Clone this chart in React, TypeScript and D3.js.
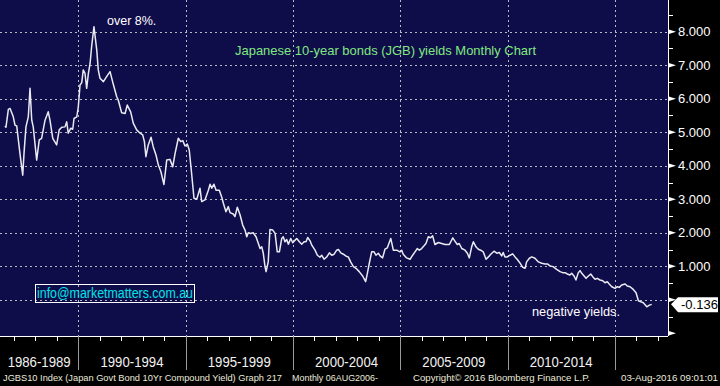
import * as React from 'react';
import { scaleLinear, line, range } from 'd3';

// JGB 10y yield, monthly (decimal year, %)
const dates = [
  1986.58, 1986.63, 1986.74, 1986.82, 1986.97, 1987.05, 1987.13, 1987.28, 1987.41, 1987.47,
  1987.56, 1987.67, 1987.75, 1987.83, 1987.90, 1988.06, 1988.18, 1988.29, 1988.45, 1988.60,
  1988.68, 1988.81, 1988.99, 1989.11, 1989.23, 1989.38, 1989.46, 1989.53, 1989.65, 1989.74,
  1989.80, 1989.93, 1990.00, 1990.08, 1990.16, 1990.23, 1990.31, 1990.39, 1990.47, 1990.55,
  1990.62, 1990.73, 1990.86, 1990.93, 1991.01, 1991.17, 1991.32, 1991.48, 1991.63, 1991.79,
  1991.86, 1992.02, 1992.18, 1992.28, 1992.44, 1992.56, 1992.72, 1992.88, 1993.00, 1993.08,
  1993.15, 1993.26, 1993.39, 1993.49, 1993.62, 1993.73, 1993.85, 1993.99, 1994.12, 1994.27,
  1994.40, 1994.51, 1994.66, 1994.77, 1994.87, 1994.97, 1995.08, 1995.17, 1995.28, 1995.39,
  1995.52, 1995.67, 1995.75, 1995.90, 1996.06, 1996.14, 1996.22, 1996.32, 1996.42, 1996.57,
  1996.68, 1996.76, 1996.88, 1996.99, 1997.07, 1997.22, 1997.30, 1997.41, 1997.54, 1997.66,
  1997.77, 1997.85, 1997.92, 1998.03, 1998.15, 1998.28, 1998.39, 1998.47, 1998.55, 1998.62,
  1998.70, 1998.75, 1998.85, 1998.93, 1999.06, 1999.17, 1999.27, 1999.37, 1999.48, 1999.55,
  1999.63, 1999.71, 1999.79, 1999.90, 1999.99, 2000.10, 2000.18, 2000.30, 2000.41, 2000.52,
  2000.61, 2000.69, 2000.80, 2000.88, 2001.03, 2001.14, 2001.26, 2001.34, 2001.45, 2001.58,
  2001.70, 2001.81, 2001.92, 2002.04, 2002.12, 2002.23, 2002.35, 2002.48, 2002.58, 2002.69,
  2002.82, 2002.94, 2003.09, 2003.25, 2003.39, 2003.47, 2003.56, 2003.67, 2003.78, 2003.87,
  2003.98, 2004.06, 2004.18, 2004.29, 2004.40, 2004.56, 2004.68, 2004.84, 2004.99, 2005.07,
  2005.14, 2005.30, 2005.46, 2005.58, 2005.69, 2005.80, 2005.89, 2006.00, 2006.11, 2006.20,
  2006.31, 2006.42, 2006.51, 2006.62, 2006.78, 2006.93, 2007.09, 2007.29, 2007.45, 2007.55,
  2007.66, 2007.75, 2007.87, 2008.02, 2008.13, 2008.22, 2008.33, 2008.41, 2008.53, 2008.64,
  2008.75, 2008.87, 2009.00, 2009.11, 2009.22, 2009.37, 2009.50, 2009.62, 2009.73, 2009.80,
  2009.88, 2009.99, 2010.12, 2010.24, 2010.35, 2010.46, 2010.58, 2010.71, 2010.82, 2010.89,
  2011.02, 2011.13, 2011.28, 2011.44, 2011.59, 2011.75, 2011.86, 2011.98, 2012.13, 2012.29,
  2012.45, 2012.57, 2012.68, 2012.79, 2012.91, 2012.99, 2013.10, 2013.19, 2013.30, 2013.38,
  2013.46, 2013.57, 2013.66, 2013.77, 2013.88, 2013.97, 2014.08, 2014.18, 2014.31, 2014.44,
  2014.54, 2014.65, 2014.74, 2014.86, 2015.01, 2015.12, 2015.21, 2015.32, 2015.48, 2015.58,
  2015.71, 2015.86, 2015.99, 2016.10, 2016.21, 2016.33, 2016.49, 2016.61, 2016.72,
];

const yields = [
  5.19, 5.15, 5.68, 5.71, 5.46, 5.21, 5.19, 4.37, 3.72, 4.37,
  5.16, 5.46, 6.31, 5.36, 5.16, 4.17, 4.77, 4.82, 5.36, 5.61,
  5.36, 4.82, 4.62, 5.07, 5.15, 5.16, 5.31, 4.97, 5.12, 5.09,
  5.41, 5.46, 5.76, 6.41, 6.48, 6.86, 6.76, 6.31, 6.76, 7.06,
  7.55, 8.15, 7.45, 6.86, 6.61, 6.51, 6.66, 6.81, 6.43, 6.06,
  5.96, 5.58, 5.56, 5.81, 5.61, 5.27, 5.07, 4.97, 4.92, 4.72,
  4.27, 4.62, 4.85, 4.57, 4.32, 4.02, 3.82, 3.44, 4.17, 4.19,
  3.97, 4.37, 4.82, 4.72, 4.75, 4.59, 4.65, 4.47, 3.77, 3.03,
  3.00, 3.33, 2.93, 2.98, 3.27, 3.45, 3.33, 3.45, 3.27, 3.27,
  3.07, 2.88, 2.63, 2.78, 2.60, 2.56, 2.48, 2.76, 2.53, 2.23,
  2.08, 1.88, 2.00, 1.98, 2.00, 1.88, 1.68, 1.53, 1.58, 1.39,
  0.99, 0.84, 1.13, 2.10, 2.08, 1.98, 1.43, 1.43, 1.83, 1.88,
  1.73, 1.80, 1.66, 1.83, 1.70, 1.78, 1.83, 1.73, 1.66, 1.73,
  1.73, 1.86, 1.76, 1.63, 1.48, 1.33, 1.27, 1.33, 1.21, 1.28,
  1.40, 1.33, 1.36, 1.48, 1.50, 1.40, 1.36, 1.30, 1.28, 1.13,
  0.99, 0.94, 0.84, 0.71, 0.54, 0.79, 1.09, 1.43, 1.43, 1.33,
  1.39, 1.31, 1.25, 1.51, 1.55, 1.83, 1.48, 1.48, 1.43, 1.48,
  1.36, 1.25, 1.21, 1.33, 1.43, 1.53, 1.48, 1.53, 1.61, 1.68,
  1.88, 1.85, 1.91, 1.65, 1.71, 1.68, 1.65, 1.65, 1.85, 1.75,
  1.65, 1.68, 1.53, 1.48, 1.39, 1.25, 1.58, 1.73, 1.58, 1.51,
  1.48, 1.43, 1.21, 1.28, 1.36, 1.45, 1.39, 1.41, 1.31, 1.41,
  1.28, 1.28, 1.33, 1.37, 1.28, 1.20, 1.10, 0.97, 0.94, 1.13,
  1.24, 1.28, 1.24, 1.13, 1.09, 1.07, 1.07, 1.01, 0.99, 0.91,
  0.84, 0.81, 0.81, 0.77, 0.74, 0.79, 0.71, 0.59, 0.81, 0.87,
  0.79, 0.71, 0.64, 0.71, 0.77, 0.69, 0.61, 0.64, 0.59, 0.57,
  0.51, 0.54, 0.47, 0.39, 0.34, 0.39, 0.37, 0.44, 0.47, 0.41,
  0.39, 0.31, 0.21, -0.03, -0.06, -0.09, -0.21, -0.16, -0.136,
];

const periods = ['1986-1989', '1990-1994', '1995-1999', '2000-2004', '2005-2009', '2010-2014'];
const periodStarts = [1986.35, 1990, 1995, 2000, 2005, 2010];
const yTicks = [1, 2, 3, 4, 5, 6, 7, 8];
const lastValue = '-0.136';

const W = 720;
const H = 386;
const plotW = 668;
const plotH = 336;

const xScale = scaleLinear().domain([1986.351, 2017.479]).range([0, plotW]);
const yScale = scaleLinear().domain([-1.0806, 8.946]).range([plotH, 0]);

const pts = dates.map((d, i) => [d, yields[i]] as [number, number]);
const path = line<[number, number]>()
  .x(d => xScale(d[0]))
  .y(d => yScale(d[1]))(pts);

const font = '"Liberation Sans", Arial, sans-serif';
const grid = '#b8b8c0';

export default function App() {
  const lastY = yScale(yields[yields.length - 1]);
  return (
    <svg width={W} height={H} style={{ position: 'absolute', left: 0, top: 0 }} fontFamily={font}>
      <rect x={0} y={0} width={W} height={H} fill="#000" />
      <rect x={0} y={0} width={plotW} height={plotH} fill="#0f0c4a" />

      {/* grid */}
      {range(0, 9).map(v => (
        <line key={'h' + v} x1={0} x2={plotW} y1={Math.round(yScale(v)) + 0.5} y2={Math.round(yScale(v)) + 0.5}
          stroke={grid} strokeDasharray="2,3" />
      ))}
      {range(1990, 2016, 5).map(yr => (
        <line key={'v' + yr} x1={Math.round(xScale(yr)) + 0.5} x2={Math.round(xScale(yr)) + 0.5} y1={0} y2={plotH}
          stroke={grid} strokeDasharray="2,3" />
      ))}

      <path d={path!} fill="none" stroke="#eaeaf2" strokeWidth={1.5} strokeLinejoin="round" />

      {/* bottom axis */}
      <line x1={0} x2={plotW} y1={plotH + 0.5} y2={plotH + 0.5} stroke="#fff" />
      {range(1987, 2018).map(yr => (
        yr % 5 === 0
          ? <line key={'t' + yr} x1={Math.round(xScale(yr)) + 0.5} x2={Math.round(xScale(yr)) + 0.5} y1={plotH} y2={370} stroke="#9a9a9a" />
          : <line key={'t' + yr} x1={Math.round(xScale(yr)) + 0.5} x2={Math.round(xScale(yr)) + 0.5} y1={plotH} y2={341} stroke="#fff" />
      ))}
      {periods.map((p, i) => (
        <text key={p} x={(xScale(periodStarts[i]) + xScale(periodStarts[i] + (i === 0 ? 3.65 : 5))) / 2}
          y={367} textAnchor="middle" fill="#f2f2f2" fontSize={14} textLength={63} lengthAdjust="spacingAndGlyphs">{p}</text>
      ))}

      {/* right axis */}
      <line x1={plotW + 0.5} x2={plotW + 0.5} y1={0} y2={plotH} stroke="#fff" />
      {range(-0.5, 9, 1).map(v => (
        <line key={'m' + v} x1={plotW} x2={673} y1={Math.round(yScale(v)) + 0.5} y2={Math.round(yScale(v)) + 0.5} stroke="#fff" />
      ))}
      {range(-1, 9).map(v => (
        <polygon key={'a' + v} fill="#fff"
          points={`${plotW},${yScale(v) - 2.5} ${plotW + 8},${yScale(v)} ${plotW},${yScale(v) + 2.5}`} />
      ))}
      {yTicks.map(v => (
        <text key={'l' + v} x={678} y={yScale(v) + 4.5} fill="#fff" fontSize={13}>{v.toFixed(3)}</text>
      ))}

      {/* last value tag */}
      <polygon fill="#fff" points={`671,${lastY} 678,${lastY - 7} 718,${lastY - 7} 718,${lastY + 8} 678,${lastY + 8}`} />
      <text x={681} y={lastY + 5} fill="#000" fontSize={13}>{lastValue}</text>

      {/* annotations */}
      <text x={235} y={55} fill="#80e880" fontSize={13} textLength={301} lengthAdjust="spacingAndGlyphs">
        Japanese 10-year bonds (JGB) yields Monthly Chart
      </text>
      <text x={107} y={25} fill="#fff" fontSize={12.5}>over 8%.</text>
      <text x={532} y={315.5} fill="#fff" fontSize={12.5} textLength={88} lengthAdjust="spacingAndGlyphs">negative yields.</text>
      <rect x={35.5} y={284.5} width={159} height={18} fill="none" stroke="#fff" />
      <text x={37} y={298} fill="#00e4e8" fontSize={14} textLength={156} lengthAdjust="spacingAndGlyphs">info@marketmatters.com.au</text>

      {/* footer */}
      <g fill="#ecebdc" fontSize={9.3}>
        <text x={3} y={381} textLength={279} lengthAdjust="spacingAndGlyphs">JGBS10 Index (Japan Govt Bond 10Yr Compound Yield) Graph 217</text>
        <text x={292} y={381} textLength={86} lengthAdjust="spacingAndGlyphs">Monthly 06AUG2006-</text>
        <text x={413} y={381} textLength={177} lengthAdjust="spacingAndGlyphs">Copyright© 2016 Bloomberg Finance L.P.</text>
        <text x={621} y={381} textLength={97} lengthAdjust="spacingAndGlyphs">03-Aug-2016 09:01:01</text>
      </g>
    </svg>
  );
}
